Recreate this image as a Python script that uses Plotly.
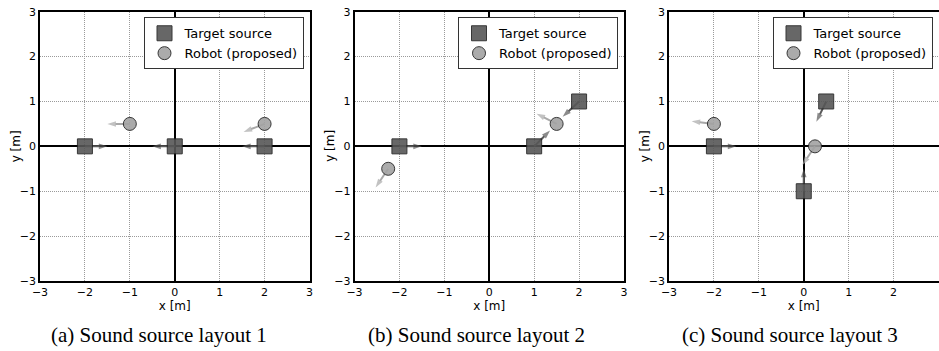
import math
import plotly.graph_objects as go

W, H = 939, 351

# ---- data ----
captions = ["(a) Sound source layout 1", "(b) Sound source layout 2", "(c) Sound source layout 3"]
tick_vals = [-3, -2, -1, 0, 1, 2, 3]
x_title = "x [m]"
y_title = "y [m]"

src_x = [[-2, 0, 2], [-2, 1, 2], [-2, 0.5, 0]]
src_y = [[0, 0, 0], [0, 0, 1], [0, 1, -1]]
src_dir = [[0, 180, 180], [0, 45, 223], [0, 244, 90]]          # arrow direction, degrees

rob_x = [[-1, 2], [-2.25, 1.5], [-2, 0.25]]
rob_y = [[0.5, 0.5], [-0.5, 0.5], [0.5, 0]]
rob_dir = [[180, 201], [236, 153], [173, 236]]

arrow_len = 0.5
legend_names = ["Target source", "Robot (proposed)"]

# ---- styles / layout ----
SRC_FILL = "#575757"
ROB_FILL = "#a3a3a3"
SRC_ARROW = "#5a5a5a"
ROB_ARROW = "#a8a8a8"

lefts = [40, 354.5, 669]
pw = 269.5
top_px, bot_px = 11.7, 281
caption_cx = [159, 476, 790]

fig = go.Figure()

def add_arrow(i, x0, y0, ang, color):
    xa = "x" if i == 0 else f"x{i+1}"
    ya = "y" if i == 0 else f"y{i+1}"
    x1 = x0 + arrow_len * math.cos(math.radians(ang))
    y1 = y0 + arrow_len * math.sin(math.radians(ang))
    fig.add_trace(go.Scatter(
        x=[x0, x1], y=[y0, y1], mode="lines+markers", xaxis=xa, yaxis=ya,
        line=dict(color=color, width=2),
        marker=dict(symbol="arrow", size=[0, 9], angleref="previous", color=color,
                    line=dict(width=0)),
        showlegend=False, hoverinfo="skip"))

for i in range(3):
    for x0, y0, a in zip(src_x[i], src_y[i], src_dir[i]):
        add_arrow(i, x0, y0, a, SRC_ARROW)
    for x0, y0, a in zip(rob_x[i], rob_y[i], rob_dir[i]):
        add_arrow(i, x0, y0, a, ROB_ARROW)

for i in range(3):
    xa = "x" if i == 0 else f"x{i+1}"
    ya = "y" if i == 0 else f"y{i+1}"
    lg = "legend" if i == 0 else f"legend{i+1}"
    fig.add_trace(go.Scatter(
        x=src_x[i], y=src_y[i], mode="markers", xaxis=xa, yaxis=ya,
        name=legend_names[0], legend=lg, legendgroup=f"s{i}",
        marker=dict(symbol="square", size=15, color=SRC_FILL, opacity=0.9,
                    line=dict(color="#222222", width=1))))
    fig.add_trace(go.Scatter(
        x=rob_x[i], y=rob_y[i], mode="markers", xaxis=xa, yaxis=ya,
        name=legend_names[1], legend=lg, legendgroup=f"r{i}",
        marker=dict(symbol="circle", size=13, color=ROB_FILL, opacity=0.9,
                    line=dict(color="#222222", width=1))))

axis_common = dict(
    range=[-3, 3], tickvals=tick_vals, ticks="", showline=True, mirror=True,
    linecolor="black", linewidth=1.5, showgrid=True, gridcolor="#9a9a9a",
    griddash="1px,1px", gridwidth=1, zeroline=True, zerolinecolor="black",
    zerolinewidth=1.5, tickfont=dict(family="DejaVu Sans", size=11, color="black"),
    fixedrange=True, automargin=False,
)

layout = dict(
    width=W, height=H, margin=dict(l=0, r=0, t=0, b=0, autoexpand=False),
    paper_bgcolor="white", plot_bgcolor="white", showlegend=True,
    font=dict(family="DejaVu Sans", color="black"),
)

ydom = [1 - bot_px / H, 1 - top_px / H]
annotations = []
for i in range(3):
    sfx = "" if i == 0 else str(i + 1)
    xd = [lefts[i] / W, (lefts[i] + pw) / W]
    layout[f"xaxis{sfx}"] = dict(axis_common, domain=xd, anchor=f"y{sfx}",
                                 title=dict(text=x_title, font=dict(size=12), standoff=2))
    layout[f"yaxis{sfx}"] = dict(axis_common, domain=ydom, anchor=f"x{sfx}")
    lg = "legend" if i == 0 else f"legend{i+1}"
    layout[lg] = dict(
        x=(lefts[i] + pw - 6) / W, xanchor="right", y=1 - 17.3 / H, yanchor="top",
        bgcolor="white", bordercolor="#333333", borderwidth=1,
        font=dict(family="DejaVu Sans", size=13, color="black"),
        tracegroupgap=0, itemclick=False,
    )
    annotations.append(dict(
        text=y_title, x=(lefts[i] - 24) / W, y=sum(ydom) / 2,
        xref="paper", yref="paper", xanchor="center", yanchor="middle",
        textangle=-90, showarrow=False,
        font=dict(family="DejaVu Sans", size=12, color="black")))
    annotations.append(dict(
        text=captions[i], x=caption_cx[i] / W, y=1 - 335 / H,
        xref="paper", yref="paper", xanchor="center", yanchor="middle",
        showarrow=False, font=dict(family="Liberation Serif", size=21, color="black")))

layout["annotations"] = annotations
fig.update_layout(**layout)
fig.write_html("out.html", config={"displayModeBar": False},
               post_script="document.body.style.margin='0';document.body.style.overflow='hidden';")
